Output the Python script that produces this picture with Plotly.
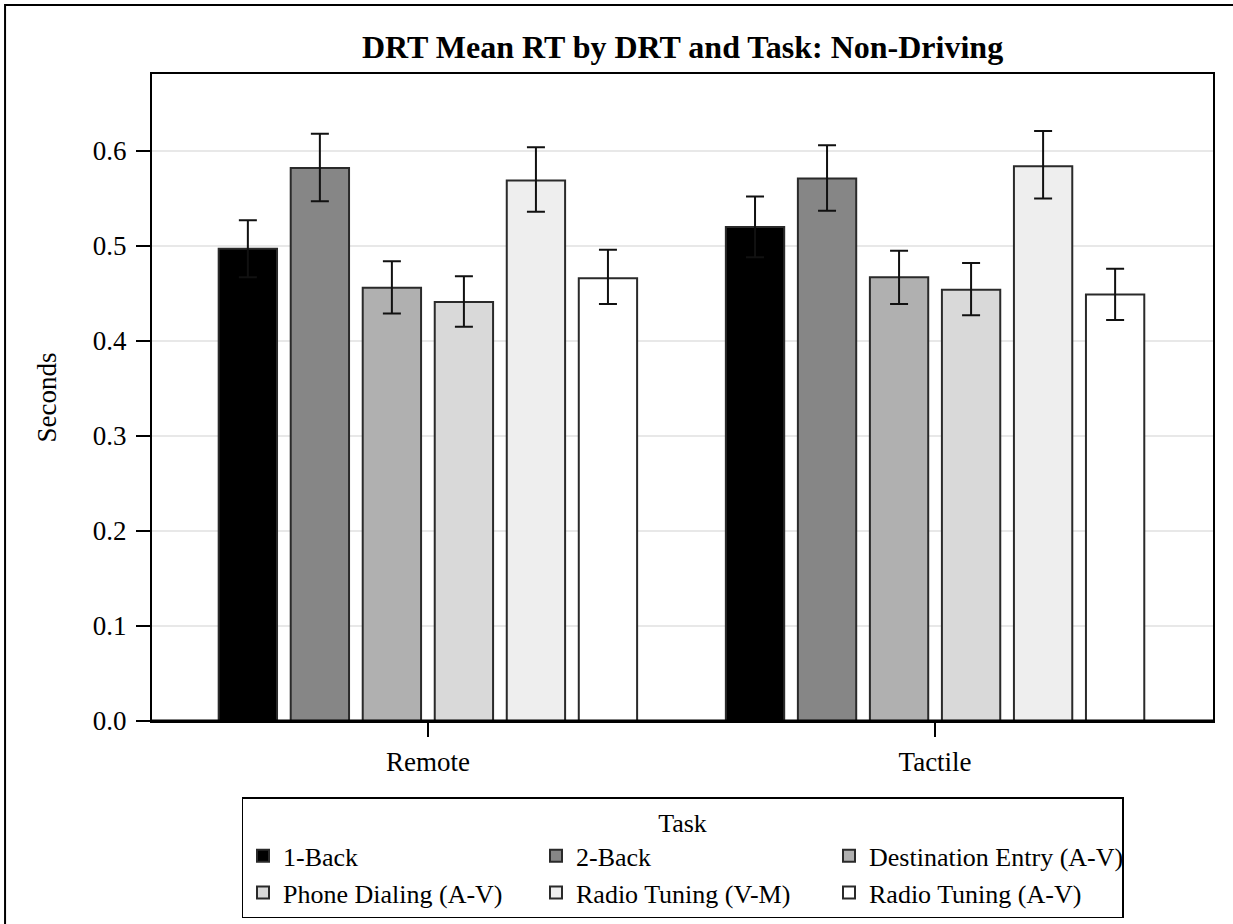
import plotly.graph_objects as go

# DRT mode groups along the x axis
drt_modes = ["Remote", "Tactile"]

# Secondary tasks (one bar series each)
tasks = [
    "1-Back",
    "2-Back",
    "Destination Entry (A-V)",
    "Phone Dialing (A-V)",
    "Radio Tuning (V-M)",
    "Radio Tuning (A-V)",
]
task_colors = ["#000000", "#868686", "#b0b0b0", "#d9d9d9", "#eeeeee", "#ffffff"]

# Mean RT (seconds) and confidence limits, ordered as in `tasks`
remote_mean = [0.497, 0.582, 0.456, 0.441, 0.569, 0.466]
remote_upper = [0.527, 0.618, 0.484, 0.468, 0.604, 0.496]
remote_lower = [0.467, 0.547, 0.429, 0.415, 0.536, 0.439]

tactile_mean = [0.520, 0.571, 0.467, 0.454, 0.584, 0.449]
tactile_upper = [0.552, 0.606, 0.495, 0.482, 0.621, 0.476]
tactile_lower = [0.488, 0.537, 0.439, 0.427, 0.550, 0.422]

y_ticks = [0.0, 0.1, 0.2, 0.3, 0.4, 0.5, 0.6]

FONT = "Liberation Serif, Times New Roman, serif"

fig = go.Figure()
for i, task in enumerate(tasks):
    means = [remote_mean[i], tactile_mean[i]]
    uppers = [remote_upper[i], tactile_upper[i]]
    lowers = [remote_lower[i], tactile_lower[i]]
    fig.add_trace(
        go.Bar(
            name=task,
            x=drt_modes,
            y=means,
            marker=dict(color=task_colors[i], line=dict(color="#2a2a2a", width=2)),
            error_y=dict(
                type="data",
                symmetric=False,
                array=[u - m for u, m in zip(uppers, means)],
                arrayminus=[m - l for m, l in zip(means, lowers)],
                color="#111111",
                thickness=2,
                width=9,
            ),
        )
    )

fig.update_layout(
    width=1233,
    height=924,
    margin=dict(l=152, r=20, t=74, b=203),
    paper_bgcolor="white",
    plot_bgcolor="white",
    font=dict(family=FONT, size=27, color="black"),
    barmode="group",
    bargap=0.148,
    bargroupgap=0.19,
    title=dict(
        text="<b>DRT Mean RT by DRT and Task: Non-Driving</b>",
        x=0.5,
        xref="paper",
        xanchor="center",
        y=1 - 47 / 924,
        yref="container",
        yanchor="middle",
        font=dict(family=FONT, size=32, color="black"),
    ),
    xaxis=dict(
        type="category",
        range=[-0.544, 1.548],
        showline=True,
        linecolor="black",
        linewidth=2,
        mirror=True,
        ticks="outside",
        ticklen=14,
        tickwidth=2,
        tickcolor="black",
        tickfont=dict(family=FONT, size=27),
        ticklabelstandoff=2,
        showgrid=False,
    ),
    yaxis=dict(
        range=[0, 0.681],
        tickvals=y_ticks,
        tickformat=".1f",
        showline=True,
        linecolor="black",
        linewidth=2,
        mirror=True,
        ticks="outside",
        ticklen=14,
        tickwidth=2,
        tickcolor="black",
        tickfont=dict(family=FONT, size=27),
        ticklabelstandoff=4,
        showgrid=True,
        gridcolor="#e8e8e8",
        gridwidth=1.5,
        zeroline=False,
        title=dict(text="Seconds", font=dict(family=FONT, size=27), standoff=28),
    ),
    legend=dict(
        orientation="h",
        x=0.5,
        xanchor="center",
        y=1 - 797 / 924,
        yref="container",
        yanchor="top",
        bordercolor="black",
        borderwidth=1.5,
        bgcolor="white",
        font=dict(family=FONT, size=26),
        title=dict(text="Task", side="top center", font=dict(family=FONT, size=26)),
        entrywidth=248,
        entrywidthmode="pixels",
        traceorder="normal",
    ),
    showlegend=True,
)

# heavier baseline at zero
fig.add_shape(
    type="line", xref="paper", yref="y", x0=0, x1=1, y0=0, y1=0,
    line=dict(color="black", width=3), layer="above",
)

# outer frame around the graphic
fig.add_shape(
    type="rect", xref="paper", yref="paper",
    x0=-0.1385, x1=1.2, y0=-0.5, y1=1.1066,
    line=dict(color="black", width=2),
)

fig.write_html("out.html")
